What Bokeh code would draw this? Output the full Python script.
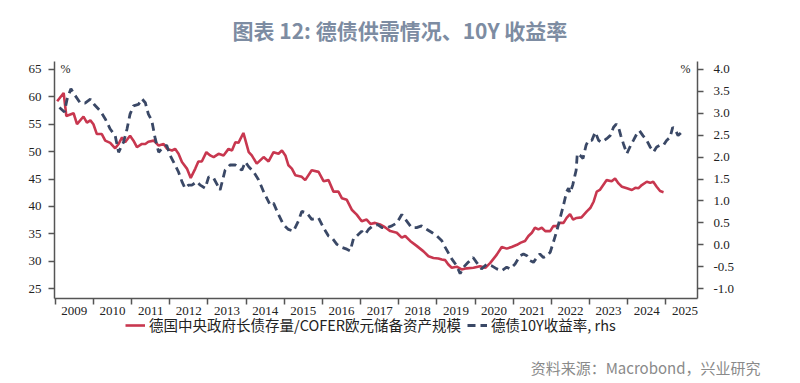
from bokeh.plotting import figure
from bokeh.layouts import column
from bokeh.models import (Range1d, LinearAxis, FixedTicker, Legend, LegendItem, Label,
                          Title, NumeralTickFormatter, CustomJSTickFormatter)
from bokeh.embed import file_html
from bokeh.resources import INLINE

# ---------------- data ----------------
years = list(range(2009, 2026))

supply_t = [2009.05, 2009.22, 2009.29, 2009.48, 2009.57, 2009.74, 2009.83, 2009.92, 2010.00, 2010.09,
            2010.22, 2010.31, 2010.44, 2010.57, 2010.66, 2010.75, 2010.83, 2010.96, 2011.05, 2011.14,
            2011.27, 2011.36, 2011.44, 2011.58, 2011.71, 2011.84, 2011.93, 2012.06, 2012.14, 2012.23,
            2012.32, 2012.45, 2012.55, 2012.67, 2012.75, 2012.84, 2012.96, 2013.06, 2013.15, 2013.28,
            2013.41, 2013.54, 2013.63, 2013.72, 2013.80, 2013.93, 2014.07, 2014.15, 2014.28, 2014.46,
            2014.59, 2014.72, 2014.85, 2014.94, 2015.03, 2015.11, 2015.20, 2015.29, 2015.46, 2015.55,
            2015.72, 2015.90, 2016.03, 2016.16, 2016.29, 2016.42, 2016.51, 2016.64, 2016.77, 2016.90,
            2017.03, 2017.16, 2017.26, 2017.38, 2017.51, 2017.64, 2017.78, 2017.95, 2018.08, 2018.17,
            2018.30, 2018.47, 2018.65, 2018.78, 2018.91, 2019.04, 2019.13, 2019.22, 2019.30, 2019.39,
            2019.52, 2019.65, 2019.78, 2019.96, 2020.13, 2020.27, 2020.40, 2020.57, 2020.70, 2020.83,
            2020.96, 2021.10, 2021.20, 2021.31, 2021.40, 2021.49, 2021.57, 2021.66, 2021.75, 2021.84,
            2021.97, 2022.05, 2022.14, 2022.23, 2022.32, 2022.40, 2022.49, 2022.57, 2022.66, 2022.79,
            2022.93, 2023.02, 2023.11, 2023.19, 2023.27, 2023.36, 2023.45, 2023.58, 2023.67, 2023.76,
            2023.85, 2023.98, 2024.11, 2024.20, 2024.28, 2024.37, 2024.50, 2024.59, 2024.67, 2024.76,
            2024.85, 2024.94]
supply_v = [59.2, 60.7, 56.5, 57.0, 55.0, 56.4, 55.3, 55.7, 55.0, 53.2,
            53.2, 52.0, 51.6, 50.6, 51.4, 52.6, 51.7, 52.9, 52.0, 50.8,
            51.4, 51.4, 51.8, 52.0, 51.1, 51.4, 50.5, 50.2, 50.5, 49.6,
            48.1, 46.9, 45.2, 46.9, 48.2, 48.2, 49.9, 49.3, 49.0, 49.6,
            49.3, 50.5, 50.2, 51.7, 51.6, 53.4, 49.9, 49.3, 47.8, 49.0,
            48.2, 49.9, 49.6, 50.2, 49.3, 47.5, 46.9, 45.7, 45.4, 44.8,
            46.6, 46.3, 44.6, 44.8, 42.7, 42.7, 41.5, 41.2, 39.4, 38.5,
            37.3, 37.6, 36.8, 37.0, 36.7, 36.2, 35.5, 35.2, 34.3, 34.6,
            33.7, 32.8, 31.8, 30.9, 30.6, 30.5, 30.3, 30.2, 29.4, 28.8,
            29.0, 28.5, 28.7, 28.8, 29.1, 28.8, 29.7, 31.2, 32.6, 32.3,
            32.6, 33.0, 33.4, 33.7, 34.6, 35.2, 36.1, 35.8, 36.1, 35.5,
            35.5, 36.4, 36.4, 37.0, 37.0, 37.9, 38.6, 37.6, 37.9, 38.0,
            39.1, 39.7, 40.9, 42.7, 43.0, 43.9, 44.8, 44.6, 45.1, 44.2,
            43.6, 43.3, 43.0, 43.4, 43.3, 43.9, 44.5, 44.3, 44.5, 43.6,
            42.8, 42.6]

yield_t = [2009.11, 2009.24, 2009.31, 2009.41, 2009.50, 2009.65, 2009.78, 2009.92, 2010.02, 2010.18,
           2010.31, 2010.44, 2010.57, 2010.66, 2010.79, 2010.88, 2010.96, 2011.05, 2011.18, 2011.27,
           2011.36, 2011.44, 2011.53, 2011.62, 2011.71, 2011.79, 2011.92, 2012.01, 2012.14, 2012.23,
           2012.32, 2012.40, 2012.49, 2012.58, 2012.71, 2012.80, 2012.93, 2013.02, 2013.15, 2013.32,
           2013.45, 2013.58, 2013.72, 2013.89, 2013.98, 2014.07, 2014.20, 2014.33, 2014.46, 2014.63,
           2014.72, 2014.85, 2014.98, 2015.11, 2015.24, 2015.37, 2015.46, 2015.59, 2015.72, 2015.90,
           2016.03, 2016.16, 2016.25, 2016.38, 2016.51, 2016.64, 2016.73, 2016.82, 2016.90, 2017.03,
           2017.12, 2017.21, 2017.32, 2017.45, 2017.56, 2017.69, 2017.82, 2017.95, 2018.08, 2018.21,
           2018.34, 2018.47, 2018.60, 2018.74, 2018.87, 2019.00, 2019.13, 2019.22, 2019.39, 2019.52,
           2019.61, 2019.70, 2019.82, 2019.95, 2020.04, 2020.17, 2020.31, 2020.44, 2020.57, 2020.70,
           2020.83, 2020.92, 2021.05, 2021.18, 2021.27, 2021.36, 2021.44, 2021.53, 2021.62, 2021.70,
           2021.79, 2021.88, 2021.97, 2022.05, 2022.14, 2022.23, 2022.32, 2022.40, 2022.45, 2022.49,
           2022.56, 2022.62, 2022.65, 2022.68, 2022.75, 2022.83, 2022.91, 2022.97, 2023.06, 2023.15,
           2023.24, 2023.32, 2023.45, 2023.54, 2023.63, 2023.70, 2023.76, 2023.82, 2023.89, 2023.98,
           2024.08, 2024.15, 2024.24, 2024.31, 2024.40, 2024.50, 2024.59, 2024.68, 2024.76, 2024.85,
           2024.94, 2025.02, 2025.11, 2025.18, 2025.24, 2025.32, 2025.45]
yield_v = [3.13, 3.03, 3.32, 3.56, 3.43, 3.24, 3.23, 3.32, 3.20, 3.05,
           2.87, 2.64, 2.49, 2.11, 2.34, 2.64, 2.98, 3.17, 3.20, 3.33,
           3.24, 2.98, 2.83, 2.42, 2.11, 2.19, 2.27, 2.04, 1.82, 1.66,
           1.44, 1.29, 1.36, 1.36, 1.44, 1.36, 1.29, 1.55, 1.52, 1.25,
           1.70, 1.82, 1.82, 1.70, 1.89, 1.78, 1.66, 1.48, 1.21, 0.91,
           0.95, 0.69, 0.46, 0.35, 0.31, 0.54, 0.76, 0.73, 0.58, 0.61,
           0.39, 0.20, 0.16, 0.01, -0.06, -0.10, -0.14, 0.16, 0.20, 0.31,
           0.24, 0.35, 0.43, 0.46, 0.39, 0.39, 0.43, 0.50, 0.69, 0.54,
           0.39, 0.39, 0.43, 0.35, 0.28, 0.20, 0.09, -0.06, -0.32, -0.48,
           -0.66, -0.51, -0.40, -0.29, -0.40, -0.55, -0.44, -0.48, -0.55, -0.59,
           -0.51, -0.55, -0.44, -0.25, -0.21, -0.25, -0.36, -0.40, -0.29, -0.21,
           -0.29, -0.25, -0.17, 0.05, 0.31, 0.61, 0.91, 1.21, 1.29, 1.18,
           1.36, 1.59, 1.70, 2.08, 2.04, 1.97, 2.27, 2.38, 2.38, 2.57,
           2.38, 2.34, 2.42, 2.49, 2.68, 2.75, 2.68, 2.49, 2.30, 2.08,
           2.27, 2.38, 2.53, 2.60, 2.49, 2.38, 2.23, 2.12, 2.23, 2.27,
           2.27, 2.38, 2.45, 2.68, 2.64, 2.49, 2.60]

left_ticks = [25, 30, 35, 40, 45, 50, 55, 60, 65]
right_ticks = [-1.0, -0.5, 0.0, 0.5, 1.0, 1.5, 2.0, 2.5, 3.0, 3.5, 4.0]

supply_label = "德国中央政府长债存量/COFER欧元储备资产规模"
yield_label = "德债10Y收益率, rhs"
title_text = "图表 12: 德债供需情况、10Y 收益率"
source_text = "资料来源：Macrobond，兴业研究"

# ---------------- styling ----------------
RED = "#c8374f"
BLUE = "#3a4866"
AXIS = "#555555"
TICKFONT = "Liberation Serif"
CJK = "Noto Sans CJK SC"

p = figure(width=800, height=318, output_backend="svg", toolbar_location=None,
           x_range=Range1d(2008.98, 2025.83), y_range=Range1d(23.2, 66.44),
           min_border_left=54, min_border_right=103, min_border_top=55, min_border_bottom=20)
p.extra_y_ranges = {"r": Range1d(-1.225, 4.18)}
p.outline_line_color = None
p.grid.visible = False
p.background_fill_color = "white"
p.border_fill_color = "white"

# title
p.title = Title(text=title_text, align="left", offset=178, text_font=CJK,
                text_font_size="21px", text_font_style="bold", text_color="#7d8ca2",
                vertical_align="top", standoff=29)

r1 = p.line(supply_t, supply_v, line_color=RED, line_width=2.6)
r2 = p.line(yield_t, yield_v, y_range_name="r", line_color=BLUE, line_width=2.8,
            line_dash="8 5")

# x axis
xa = p.xaxis[0]
xa.ticker = FixedTicker(ticks=[y + 0.5 for y in years], minor_ticks=years)
xa.formatter = CustomJSTickFormatter(code="return Math.floor(tick).toString();")
xa.major_tick_line_color = None
xa.major_tick_out = 0
xa.major_tick_in = 0
xa.minor_tick_out = 6
xa.minor_tick_in = 0
xa.minor_tick_line_color = AXIS
xa.minor_tick_line_width = 1.5
xa.axis_line_color = AXIS
xa.axis_line_width = 1.5
xa.major_label_standoff = 2
xa.major_label_text_font = TICKFONT
xa.major_label_text_font_size = "13px"
xa.major_label_text_color = "#222222"

# left axis
ya = p.yaxis[0]
ya.ticker = FixedTicker(ticks=left_ticks)
ya.major_tick_out = 6
ya.major_tick_in = 0
ya.minor_tick_line_color = None
ya.major_tick_line_color = AXIS
ya.major_tick_line_width = 1.5
ya.axis_line_color = AXIS
ya.axis_line_width = 1.5
ya.major_label_standoff = 7
ya.major_label_text_font = TICKFONT
ya.major_label_text_font_size = "13px"
ya.major_label_text_color = "#222222"

# right axis
ra = LinearAxis(y_range_name="r", ticker=FixedTicker(ticks=right_ticks),
                formatter=NumeralTickFormatter(format="0.0"))
ra.major_tick_out = 6
ra.major_tick_in = 0
ra.minor_tick_line_color = None
ra.major_tick_line_color = AXIS
ra.major_tick_line_width = 1.5
ra.axis_line_color = AXIS
ra.axis_line_width = 1.5
ra.major_label_standoff = 10
ra.major_label_text_font = TICKFONT
ra.major_label_text_font_size = "13px"
ra.major_label_text_color = "#222222"
p.add_layout(ra, "right")

# unit labels
p.add_layout(Label(x=2008.98, y=65, text="%", x_offset=6, text_baseline="middle",
                   text_font=TICKFONT, text_font_size="12px", text_color="#222222"))
p.add_layout(Label(x=2025.83, y=65, text="%", x_offset=-7, text_align="right",
                   text_baseline="middle", text_font=TICKFONT, text_font_size="12px",
                   text_color="#222222"))

# ---------------- footer: legend + source ----------------
f = figure(width=800, height=65, output_backend="svg", toolbar_location=None,
           x_range=Range1d(0, 1), y_range=Range1d(0, 1),
           min_border_left=54, min_border_right=103, min_border_top=0, min_border_bottom=30)
f.axis.visible = False
f.grid.visible = False
f.outline_line_color = None
f.border_fill_color = "white"
f.background_fill_alpha = 0

# legend keys (style-only renderers, no visible data)
nan = float("nan")
k1 = f.line(x=[nan], y=[nan], line_color=RED, line_width=2.6)
k2 = f.line(x=[nan], y=[nan], line_color=BLUE, line_width=2.8, line_dash="8 5")

legend = Legend(items=[LegendItem(label=supply_label, renderers=[k1]),
                       LegendItem(label=yield_label, renderers=[k2])],
                orientation="horizontal", location=(71, 13),
                label_text_font=CJK, label_text_font_size="14.5px", label_text_color="#222222",
                glyph_width=20, glyph_height=12, label_standoff=4, spacing=6,
                padding=0, margin=0, border_line_color=None, background_fill_alpha=0)
f.add_layout(legend)

f.add_layout(Title(text=source_text, align="right", offset=-63, text_font=CJK,
                   text_font_size="15px", text_font_style="normal", text_color="#8a8a8a",
                   standoff=12), "below")

layout = column(p, f, spacing=0)
open("out.html", "w").write(file_html(layout, INLINE))
